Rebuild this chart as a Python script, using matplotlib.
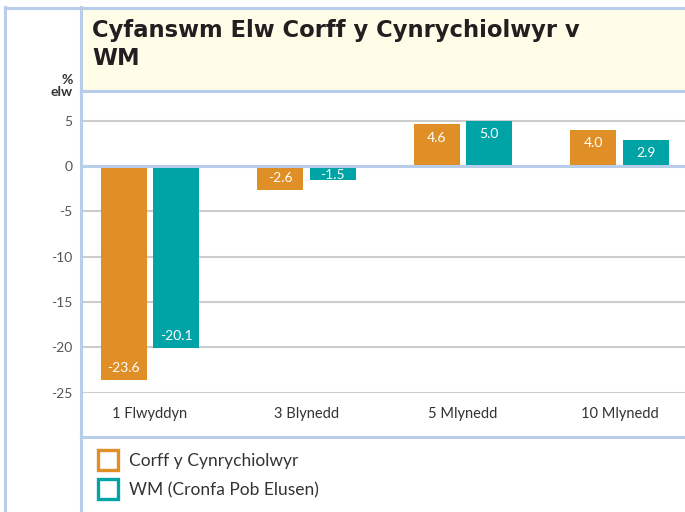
import matplotlib.pyplot as plt
from matplotlib.lines import Line2D
from matplotlib.patches import Rectangle
import numpy as np

plt.rcParams['font.family'] = ['Lato', 'DejaVu Sans']

categories = ['1 Flwyddyn', '3 Blynedd', '5 Mlynedd', '10 Mlynedd']
corff = [-23.6, -2.6, 4.6, 4.0]
wm = [-20.1, -1.5, 5.0, 2.9]
series_names = ['Corff y Cynrychiolwyr', 'WM (Cronfa Pob Elusen)']
yticks = [5, 0, -5, -10, -15, -20, -25]

ORANGE = '#E08E26'
TEAL = '#00A3A6'
BLUE = '#B7CDEA'
W, H = 685, 512


def fx(x):
    return x / W


def fy(y):
    return 1 - y / H


fig = plt.figure(figsize=(6.85, 5.12), dpi=100)

# frame, title box and separators
fig.patches.append(Rectangle((fx(81), fy(90.7)), fx(685) - fx(81), fy(8) - fy(90.7),
                             transform=fig.transFigure, facecolor='#FFFDE8', edgecolor='none', zorder=0))
for xs, ys in [((5, 5), (7, 512)), ((5, 685), (7.5, 7.5)), ((81, 81), (7, 512)),
               ((81, 685), (90.7, 90.7)), ((81, 685), (436.7, 436.7))]:
    fig.add_artist(Line2D([fx(xs[0]), fx(xs[1])], [fy(ys[0]), fy(ys[1])],
                          transform=fig.transFigure, color=BLUE, lw=2.2, zorder=1))

fig.text(fx(92), fy(19.5), 'Cyfanswm Elw Corff y Cynrychiolwyr v\nWM', fontsize=16.3,
         family='DejaVu Sans', fontweight='bold', color='#231F20',
         va='top', ha='left', linespacing=1.27)
fig.text(fx(73), fy(74), '%\nelw', fontsize=10, fontweight='bold', color='#333333',
         va='top', ha='right', multialignment='right', linespacing=0.95)

ax = fig.add_axes([fx(81), fy(392.7), fx(685) - fx(81), fy(90.7) - fy(392.7)])
ax.set_facecolor('none')
x = np.arange(len(categories))
bw = 0.294
off = 0.168
ax.bar(x - off, corff, bw, color=ORANGE, zorder=3)
ax.bar(x + off, wm, bw, color=TEAL, zorder=3)

for vals, sgn in [(corff, -1), (wm, 1)]:
    for xi, v in zip(x, vals):
        if v >= 0:
            ly = v - 1.5
        else:
            ly = min(v + 1.3, -1.0)
        ax.text(xi + sgn * off, ly, f'{v:.1f}', color='white', fontsize=10,
                ha='center', va='center', zorder=5)

ax.set_xlim(-0.441, 3.418)
ax.set_ylim(-25, 8.3)
ax.set_yticks(yticks)
ax.set_yticklabels([str(t) for t in yticks])
ax.yaxis.grid(True, color='#CCCCCC', lw=1.5, zorder=0)
ax.axhline(0, color=BLUE, lw=2.2, zorder=4)
ax.set_xticks(x)
ax.set_xticklabels(categories)
ax.tick_params(axis='y', length=0, pad=6, labelsize=10, labelcolor='#555555')
ax.tick_params(axis='x', length=0, pad=10, labelsize=10.5, labelcolor='#333333')
for s in ax.spines.values():
    s.set_visible(False)

handles = [Line2D([], [], marker='s', ls='none', markersize=14, markerfacecolor='white',
                  markeredgecolor=c, markeredgewidth=2.4) for c in (ORANGE, TEAL)]
fig.legend(handles, series_names, loc='upper left', bbox_to_anchor=(fx(98), fy(453)),
           frameon=False, fontsize=12.5, labelcolor='#333333', handlelength=1.1,
           handletextpad=0.7, labelspacing=0.75, borderaxespad=0, borderpad=0)

fig.savefig('out.png', dpi=100)
